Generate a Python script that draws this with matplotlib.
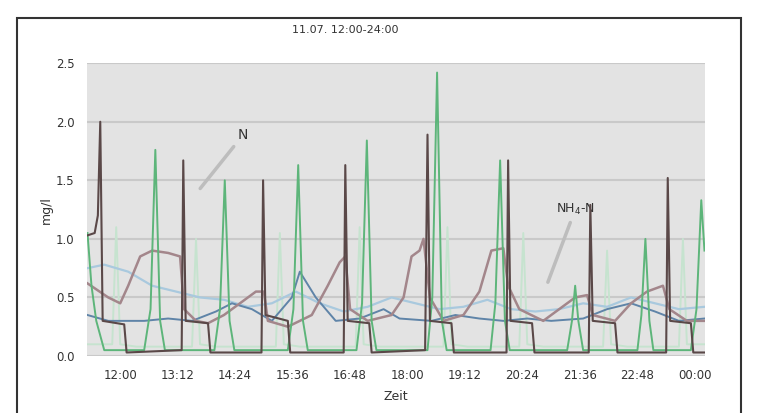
import matplotlib
matplotlib.use("Agg")
import matplotlib.pyplot as plt
from matplotlib.patches import Rectangle

# measured concentrations, time stamps as HH:MM
dark_t = ["11:19", "11:28", "11:32", "11:35", "11:38", "12:05", "12:08", "13:17", "13:19", "13:22",
          "13:50", "13:53", "14:57", "14:59", "15:02", "15:30", "15:33", "16:40", "16:42", "16:45",
          "17:12", "17:15", "18:22", "18:25", "18:28", "18:55", "18:58", "20:04", "20:06", "20:09",
          "20:36", "20:39", "21:47", "21:49", "21:52", "22:20", "22:23", "23:24", "23:26", "23:29",
          "23:55", "23:58", "24:12"]
dark_v = [1.03, 1.05, 1.2, 2.0, 0.3, 0.27, 0.03, 0.05, 1.67, 0.3,
          0.28, 0.03, 0.03, 1.5, 0.35, 0.3, 0.03, 0.03, 1.63, 0.3,
          0.28, 0.03, 0.05, 1.89, 0.3, 0.28, 0.03, 0.03, 1.67, 0.3,
          0.28, 0.03, 0.03, 1.29, 0.3, 0.28, 0.03, 0.03, 1.52, 0.3,
          0.28, 0.03, 0.03]

green_t = ["11:19", "11:24", "11:30", "11:40", "12:30", "12:38", "12:44", "12:50", "12:56", "13:58",
           "14:05", "14:11", "14:17", "14:23", "15:30", "15:37", "15:43", "15:49", "15:55", "16:56",
           "17:03", "17:09", "17:15", "17:21", "18:25", "18:31", "18:37", "18:43", "18:49", "19:44",
           "19:50", "19:56", "20:02", "20:08", "21:20", "21:26", "21:30", "21:34", "21:40", "22:48",
           "22:53", "22:58", "23:03", "23:08", "23:55", "24:02", "24:08", "24:12"]
green_v = [1.05, 0.6, 0.3, 0.05, 0.05, 0.4, 1.76, 0.3, 0.05, 0.05,
           0.4, 1.5, 0.3, 0.05, 0.05, 0.4, 1.63, 0.3, 0.05, 0.05,
           0.45, 1.84, 0.3, 0.05, 0.05, 0.5, 2.42, 0.3, 0.05, 0.05,
           0.45, 1.67, 0.3, 0.05, 0.05, 0.3, 0.6, 0.3, 0.05, 0.05,
           0.35, 1.0, 0.3, 0.05, 0.05, 0.4, 1.33, 0.9]

mauve_t = ["11:19", "11:45", "12:00", "12:10", "12:25", "12:40", "13:00", "13:15", "13:20", "13:35",
           "13:50", "14:10", "14:30", "14:50", "15:00", "15:05", "15:30", "16:00", "16:20", "16:35",
           "16:42", "16:48", "17:10", "17:40", "17:55", "18:05", "18:15", "18:20", "18:28", "18:45",
           "19:10", "19:30", "19:45", "20:00", "20:06", "20:20", "20:50", "21:10", "21:30", "21:45",
           "21:52", "22:20", "22:40", "23:00", "23:20", "23:28", "23:50", "24:12"]
mauve_v = [0.62, 0.5, 0.45, 0.6, 0.85, 0.9, 0.88, 0.85, 0.4, 0.3,
           0.28, 0.35, 0.45, 0.55, 0.55, 0.3, 0.25, 0.35, 0.6, 0.8,
           0.85, 0.4, 0.3, 0.35, 0.5, 0.85, 0.9, 1.0, 0.5, 0.3,
           0.35, 0.55, 0.9, 0.92, 0.6, 0.4, 0.3, 0.4, 0.5, 0.52,
           0.35, 0.3, 0.45, 0.55, 0.6, 0.4, 0.3, 0.3]

blue_t = ["11:19", "11:45", "12:30", "13:00", "13:30", "14:00", "14:20", "14:45", "15:10", "15:35",
          "15:45", "16:05", "16:30", "17:00", "17:30", "17:50", "18:30", "19:00", "19:30", "20:00",
          "20:30", "21:00", "21:40", "22:10", "22:40", "23:10", "23:40", "24:12"]
blue_v = [0.35, 0.3, 0.3, 0.32, 0.3, 0.38, 0.45, 0.4, 0.3, 0.5,
          0.72, 0.5, 0.3, 0.32, 0.4, 0.32, 0.3, 0.35, 0.32, 0.3,
          0.32, 0.3, 0.32, 0.4, 0.45, 0.38, 0.3, 0.32]

light_t = ["11:19", "11:40", "12:10", "12:40", "13:10", "13:40", "14:10", "14:40", "15:10", "15:40",
           "16:10", "16:40", "17:10", "17:40", "18:10", "18:40", "19:10", "19:40", "20:10", "20:40",
           "21:10", "21:40", "22:10", "22:40", "23:10", "23:40", "24:12"]
light_v = [0.75, 0.78, 0.72, 0.6, 0.55, 0.5, 0.48, 0.42, 0.45, 0.55,
           0.45, 0.38, 0.42, 0.5, 0.45, 0.4, 0.42, 0.48, 0.4, 0.38,
           0.4, 0.45, 0.42, 0.5, 0.45, 0.4, 0.42]

# faint secondary probe, mostly near zero with short excursions
pale_t = ["11:19", "11:50", "11:55", "12:00", "12:20", "13:30", "13:35", "13:40", "14:00", "15:15",
          "15:20", "15:25", "15:45", "16:55", "17:00", "17:05", "17:25", "18:45", "18:50", "18:55",
          "19:15", "20:20", "20:25", "20:30", "20:50", "22:05", "22:10", "22:15", "22:35", "23:40",
          "23:45", "23:50", "24:12"]
pale_v = [0.1, 0.1, 1.1, 0.1, 0.08, 0.08, 1.0, 0.1, 0.08, 0.08,
          1.05, 0.1, 0.08, 0.08, 1.1, 0.1, 0.08, 0.08, 1.1, 0.1,
          0.08, 0.08, 1.05, 0.1, 0.08, 0.08, 0.9, 0.1, 0.08, 0.08,
          1.0, 0.1, 0.1]

tick_labels = ["12:00", "13:12", "14:24", "15:36", "16:48", "18:00",
               "19:12", "20:24", "21:36", "22:48", "00:00"]


def hours(stamps):
    out = []
    for s in stamps:
        h, m = s.split(":")
        out.append(int(h) + int(m) / 60)
    return out


fig = plt.figure(figsize=(7.58, 4.13), dpi=100)
ax = fig.add_axes([0.115, 0.138, 0.815, 0.709])
ax.set_facecolor("#e3e3e3")

ax.plot(hours(pale_t), pale_v, color="#c6e3cf", lw=1.4, zorder=2)
ax.plot(hours(light_t), light_v, color="#a9c9de", lw=1.6, zorder=2)
ax.plot(hours(blue_t), blue_v, color="#5f84a8", lw=1.4, zorder=3)
ax.plot(hours(mauve_t), mauve_v, color="#a3868b", lw=1.8, zorder=3)
ax.plot(hours(green_t), green_v, color="#5db57a", lw=1.4, zorder=4)
ax.plot(hours(dark_t), dark_v, color="#5a4848", lw=1.5, zorder=5)

ax.set_xlim(11.31, 24.21)
ax.set_ylim(0, 2.5)
ax.set_xticks([12 + 1.2 * k for k in range(len(tick_labels))])
ax.set_xticklabels(tick_labels)
ax.set_yticks([0, 0.5, 1.0, 1.5, 2.0, 2.5])
ax.set_yticklabels(["0.0", "0.5", "1.0", "1.5", "2.0", "2.5"])
ax.tick_params(length=0, labelsize=8.5, colors="#333333", pad=9)
ax.grid(axis="y", color="#c9c9c9", lw=1.5)
ax.set_axisbelow(True)
for sp in ax.spines.values():
    sp.set_visible(False)

ax.set_xlabel("Zeit", fontsize=9, color="#333333", labelpad=6)
ax.set_ylabel("mg/l", fontsize=9, color="#333333", labelpad=2)

# labels with leader lines
ax.annotate("N", xy=(13.67, 1.43), xytext=(14.57, 1.89), fontsize=10, color="#333333",
            ha="center", va="center",
            arrowprops=dict(arrowstyle="-", color="#bdbdbd", lw=2.5, shrinkB=0))
ax.annotate("NH$_4$-N", xy=(20.93, 0.63), xytext=(21.5, 1.25), fontsize=9, color="#333333",
            ha="center", va="center",
            arrowprops=dict(arrowstyle="-", color="#bdbdbd", lw=2.5, shrinkB=0))

fig.text(0.455, 0.92, "11.07. 12:00-24:00", fontsize=8, color="#333333", ha="center")

fig.patches.append(Rectangle((17 / 758, -0.02), 724 / 758, 1.02 - 18 / 413,
                             transform=fig.transFigure, fill=False,
                             edgecolor="#333333", lw=1.5))

fig.savefig("out.png", dpi=100)
